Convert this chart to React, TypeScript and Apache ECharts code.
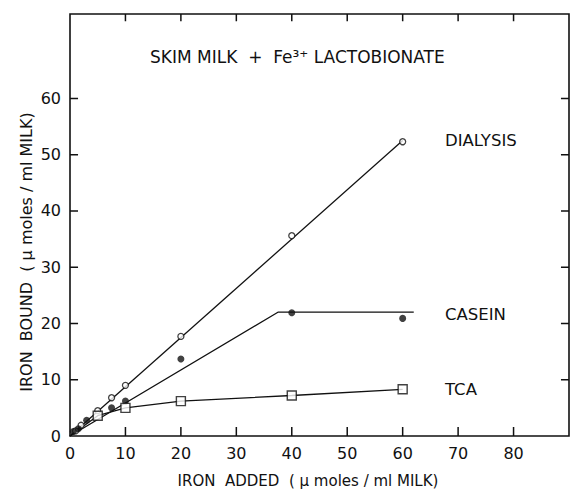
import React, { useEffect, useRef } from "react";
import * as echarts from "echarts";

const X_MIN = 0, X_MAX = 90, Y_MIN = 0, Y_MAX = 75;
const xTickValues = [10, 20, 30, 40, 50, 60, 70, 80];
const xLabelValues = [0, 10, 20, 30, 40, 50, 60, 70, 80];
const yTickValues = [10, 20, 30, 40, 50, 60];
const yLabelValues = [0, 10, 20, 30, 40, 50, 60];

// measured points
const dialysisPoints: number[][] = [
  [1, 0.9], [2, 1.9], [5, 4.5], [7.5, 6.8], [10, 9], [20, 17.7], [40, 35.6], [60, 52.3],
];
const caseinPoints: number[][] = [
  [0.6, 0.8], [1.5, 1.3], [3, 2.8], [7.5, 5], [10, 6.2], [20, 13.7], [40, 21.9], [60, 20.9],
];
const tcaPoints: number[][] = [
  [5, 3.6], [10, 5], [20, 6.2], [40, 7.2], [60, 8.3],
];

// fitted lines
const dialysisFit: number[][] = [[0, 0], [60, 52.5]];
const caseinFit: number[][] = [[0, 0], [37.5, 22], [62, 22]];
const tcaFit: number[][] = [[0, 0], [5, 3.6], [10, 5], [20, 6.2], [40, 7.2], [60, 8.3]];

const seriesLabels = ["DIALYSIS", "CASEIN", "TCA"];
const titleText = "SKIM MILK  +  Fe³⁺ LACTOBIONATE";
const xTitle = "IRON  ADDED  ( μ moles / ml MILK)";
const yTitle = "IRON  BOUND  ( μ moles / ml MILK)";

const FONT = "DejaVu Sans";
const INK = "#111";

// tick lengths expressed in axis units (about 8-9 px)
const BOTTOM_TICK = 1.6;
const TOP_TICK = 1.3;
const SIDE_TICK = 1.45;

export default function App() {
  const ref = useRef<HTMLDivElement>(null);
  useEffect(() => {
    if (!ref.current) return;
    const chart = echarts.init(ref.current, null, { renderer: "svg" });
    const lineStyle = { color: INK, width: 1.3 };
    const xLabelFmt = (v: number) => (xLabelValues.indexOf(v) >= 0 ? String(v) : "");
    const yLabelFmt = (v: number) => (yLabelValues.indexOf(v) >= 0 ? String(v) : "");

    // tick segments, separated by empty points so each is drawn alone
    const tickSegs: any[] = [];
    xTickValues.forEach((v) => {
      tickSegs.push([v, Y_MIN], [v, Y_MIN + BOTTOM_TICK], [v, "-"]);
      tickSegs.push([v, Y_MAX], [v, Y_MAX - TOP_TICK], [v, "-"]);
    });
    yTickValues.forEach((v) => {
      tickSegs.push([X_MIN, v], [X_MIN + SIDE_TICK, v], ["-", v]);
      tickSegs.push([X_MAX, v], [X_MAX - SIDE_TICK, v], ["-", v]);
    });

    chart.setOption({
      animation: false,
      grid: {
        show: true, left: 70, right: 2, top: 14, bottom: 56, containLabel: false,
        borderColor: INK, borderWidth: 1.6, backgroundColor: "transparent",
      },
      xAxis: {
        type: "value", min: X_MIN, max: X_MAX, interval: 10,
        axisLine: { show: false, onZero: false }, splitLine: { show: false }, axisTick: { show: false },
        axisLabel: { show: true, formatter: xLabelFmt, margin: 9, color: INK, fontFamily: FONT, fontSize: 16 },
      },
      yAxis: {
        type: "value", min: Y_MIN, max: Y_MAX, interval: 10,
        axisLine: { show: false, onZero: false }, splitLine: { show: false }, axisTick: { show: false },
        axisLabel: { show: true, formatter: yLabelFmt, margin: 9, color: INK, fontFamily: FONT, fontSize: 16 },
      },
      series: [
        {
          type: "line", data: tickSegs, symbol: "none", connectNulls: false, clip: false, silent: true,
          lineStyle: { color: INK, width: 1.5 }, z: 5,
        },
        { type: "line", data: dialysisFit, symbol: "none", lineStyle, z: 2 },
        { type: "line", data: caseinFit, symbol: "none", lineStyle, z: 2 },
        { type: "line", data: tcaFit, symbol: "none", lineStyle, z: 2 },
        {
          type: "scatter", data: dialysisPoints, symbol: "circle", symbolSize: 6,
          itemStyle: { color: "#fff", borderColor: INK, borderWidth: 1.3 }, z: 3,
        },
        {
          type: "scatter", data: caseinPoints, symbol: "circle", symbolSize: 7,
          itemStyle: { color: INK, borderColor: INK, borderWidth: 0 }, z: 3,
        },
        {
          type: "scatter", data: tcaPoints, symbol: "rect", symbolSize: 9,
          itemStyle: { color: "#fff", borderColor: INK, borderWidth: 1.4 }, z: 4,
        },
      ],
      graphic: [
        { type: "text", x: 150, y: 57, style: { text: titleText, fill: INK, font: `17px "${FONT}"`, textAlign: "left", textVerticalAlign: "middle" } },
        { type: "text", x: 445, y: 140, style: { text: seriesLabels[0], fill: INK, font: `16.5px "${FONT}"`, textAlign: "left", textVerticalAlign: "middle" } },
        { type: "text", x: 445, y: 314, style: { text: seriesLabels[1], fill: INK, font: `16.5px "${FONT}"`, textAlign: "left", textVerticalAlign: "middle" } },
        { type: "text", x: 445, y: 389, style: { text: seriesLabels[2], fill: INK, font: `16.5px "${FONT}"`, textAlign: "left", textVerticalAlign: "middle" } },
        { type: "text", x: 308, y: 481, style: { text: xTitle, fill: INK, font: `15px "${FONT}"`, textAlign: "center", textVerticalAlign: "middle" } },
        { type: "text", x: 26, y: 252, rotation: Math.PI / 2, style: { text: yTitle, fill: INK, font: `16px "${FONT}"`, textAlign: "center", textVerticalAlign: "middle" } },
      ],
    });
    return () => chart.dispose();
  }, []);
  return <div ref={ref} style={{ width: 572, height: 492, position: "absolute", left: 0, top: 0, background: "#fff" }} />;
}
